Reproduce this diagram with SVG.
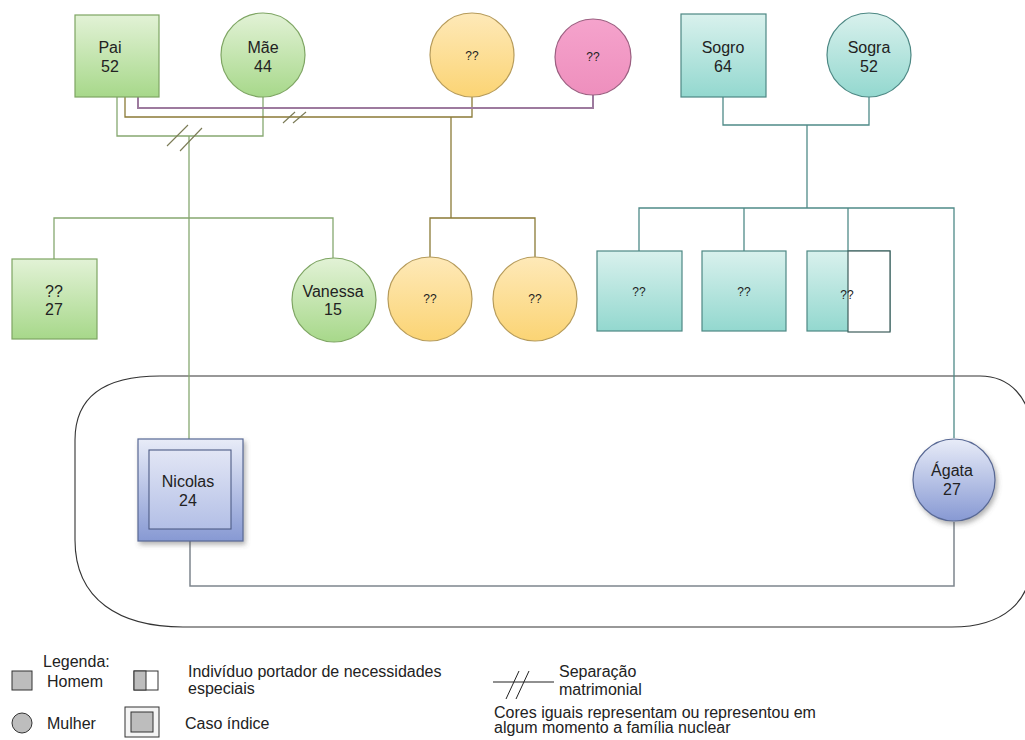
<svg xmlns="http://www.w3.org/2000/svg" width="1025" height="740" viewBox="0 0 1025 740">
  <defs>
    <linearGradient id="gGreen" x1="0" y1="0" x2="0" y2="1">
      <stop offset="0" stop-color="#e2f2d6"/>
      <stop offset="1" stop-color="#a7d88a"/>
    </linearGradient>
    <linearGradient id="gYellow" x1="0" y1="0" x2="0" y2="1">
      <stop offset="0" stop-color="#fee9b8"/>
      <stop offset="1" stop-color="#fbd474"/>
    </linearGradient>
    <linearGradient id="gPink" x1="0" y1="0" x2="0" y2="1">
      <stop offset="0" stop-color="#f5a3cc"/>
      <stop offset="1" stop-color="#ee8fbd"/>
    </linearGradient>
    <linearGradient id="gTeal" x1="0" y1="0" x2="0" y2="1">
      <stop offset="0" stop-color="#d9f1ed"/>
      <stop offset="1" stop-color="#93d8cf"/>
    </linearGradient>
    <linearGradient id="gBlue" x1="0" y1="0" x2="0" y2="1">
      <stop offset="0" stop-color="#e8ecf8"/>
      <stop offset="1" stop-color="#8799d3"/>
    </linearGradient>
    <linearGradient id="gBlueInner" x1="0" y1="0" x2="0" y2="1">
      <stop offset="0" stop-color="#e2e6f5"/>
      <stop offset="1" stop-color="#b3bfe6"/>
    </linearGradient>
    <filter id="shadow" x="-20%" y="-20%" width="150%" height="150%">
      <feDropShadow dx="2" dy="3" stdDeviation="2.5" flood-color="#555" flood-opacity="0.45"/>
    </filter>
  </defs>
  <style>
    text { font-family: "Liberation Sans", Arial, sans-serif; fill: #222; }
    .name { font-size: 16px; text-anchor: middle; }
    .small { font-size: 12px; text-anchor: middle; }
    .leg { font-size: 16px; }
    .green { fill: url(#gGreen); stroke: #7ea563; stroke-width: 1.2; }
    .yellow { fill: url(#gYellow); stroke: #b69b5a; stroke-width: 1.2; }
    .pink { fill: url(#gPink); stroke: #9b5f80; stroke-width: 1.2; }
    .teal { fill: url(#gTeal); stroke: #4d8884; stroke-width: 1.2; }
    .blue { fill: url(#gBlue); stroke: #596995; stroke-width: 1.2; }
    .c-green { fill: none; stroke: #86a870; stroke-width: 1.3; }
    .c-olive { fill: none; stroke: #8a7a36; stroke-width: 1.3; }
    .c-purple { fill: none; stroke: #9d7a9e; stroke-width: 2; }
    .c-teal { fill: none; stroke: #4f8a88; stroke-width: 1.3; }
    .c-gray { fill: none; stroke: #7d858d; stroke-width: 1.5; }
    .slash { fill: none; stroke: #7a7a55; stroke-width: 1.1; }
    .legshape { fill: #bdbdbd; stroke: #333; stroke-width: 1; }
  </style>

  <rect width="1025" height="740" fill="#ffffff"/>

  <!-- household boundary -->
  <path d="M 160 376 L 980 376 C 1010 376 1030 398 1031 430 L 1031 565 C 1030 600 1005 627 952 627 L 183 627 C 120 627 75 600 75 540 L 75 440 C 75 400 100 376 160 376 Z" fill="none" stroke="#333" stroke-width="1.1"/>

  <g id="connectors">
    <!-- Pai - Mãe union and children -->
    <path class="c-green" d="M 117 97 L 117 136 L 263 136 L 263 97"/>
    <path class="c-green" d="M 189 136 L 189 439"/>
    <path class="c-green" d="M 54 259 L 54 218 L 333 218 L 333 258"/>
    <line class="slash" x1="167" y1="146" x2="188" y2="125"/>
    <line class="slash" x1="180" y1="151" x2="202" y2="128"/>
    <!-- Pai - second partner union and children -->
    <path class="c-olive" d="M 125 97 L 125 117 L 472 117 L 472 97"/>
    <path class="c-olive" d="M 451 117 L 451 218"/>
    <path class="c-olive" d="M 430 258 L 430 218 L 535 218 L 535 258"/>
    <line class="slash" x1="283" y1="123" x2="295" y2="112"/>
    <line class="slash" x1="293" y1="123" x2="306" y2="112"/>
    <!-- Pai - third partner union -->
    <path class="c-purple" d="M 138 97 L 138 108 L 593 108 L 593 95"/>
    <!-- Sogro - Sogra union and children -->
    <path class="c-teal" d="M 723 97 L 723 125 L 869 125 L 869 97"/>
    <path class="c-teal" d="M 807 125 L 807 208"/>
    <path class="c-teal" d="M 639 251 L 639 208 L 954 208 L 954 438"/>
    <path class="c-teal" d="M 744 208 L 744 251"/>
    <path class="c-teal" d="M 848 208 L 848 251"/>
    <!-- Nicolas - Ágata union -->
    <path class="c-gray" d="M 190 541 L 190 586 L 954 586 L 954 522"/>
  </g>

  <g id="pai">
    <rect class="green" x="75" y="15" width="84" height="82"/>
    <text class="name" x="110" y="53">Pai</text>
    <text class="name" x="110" y="72">52</text>
  </g>
  <g id="mae">
    <circle class="green" cx="263" cy="55" r="42"/>
    <text class="name" x="263" y="53">Mãe</text>
    <text class="name" x="263" y="72">44</text>
  </g>
  <g id="parceira-1">
    <circle class="yellow" cx="472" cy="55" r="42"/>
    <text class="small" x="472" y="60">??</text>
  </g>
  <g id="parceira-2">
    <circle class="pink" cx="593" cy="57" r="38"/>
    <text class="small" x="593" y="61">??</text>
  </g>
  <g id="sogro">
    <rect class="teal" x="681" y="14" width="85" height="83"/>
    <text class="name" x="723" y="53">Sogro</text>
    <text class="name" x="723" y="72">64</text>
  </g>
  <g id="sogra">
    <circle class="teal" cx="869" cy="55" r="42"/>
    <text class="name" x="869" y="53">Sogra</text>
    <text class="name" x="869" y="72">52</text>
  </g>

  <g id="irmao">
    <rect class="green" x="12" y="259" width="85" height="80"/>
    <text class="name" x="54" y="297">??</text>
    <text class="name" x="54" y="315">27</text>
  </g>
  <g id="vanessa">
    <circle class="green" cx="334" cy="300" r="42"/>
    <text class="name" x="333" y="297">Vanessa</text>
    <text class="name" x="333" y="315">15</text>
  </g>
  <g id="meia-irma-1">
    <circle class="yellow" cx="430" cy="299" r="42"/>
    <text class="small" x="430" y="303">??</text>
  </g>
  <g id="meia-irma-2">
    <circle class="yellow" cx="535" cy="299" r="42"/>
    <text class="small" x="535" y="303">??</text>
  </g>
  <g id="cunhado-1">
    <rect class="teal" x="597" y="251" width="85" height="80"/>
    <text class="small" x="639" y="296">??</text>
  </g>
  <g id="cunhado-2">
    <rect class="teal" x="702" y="251" width="84" height="80"/>
    <text class="small" x="744" y="296">??</text>
  </g>
  <g id="cunhado-3">
    <rect class="teal" x="807" y="251" width="83" height="80"/>
    <rect x="848" y="251" width="42" height="81" fill="#ffffff" stroke="#3d5c5a" stroke-width="1.2"/>
    <text class="small" x="847" y="299">??</text>
  </g>

  <g id="nicolas">
    <rect class="blue" x="138" y="439" width="105" height="102" filter="url(#shadow)"/>
    <rect x="149" y="450" width="82" height="79" fill="url(#gBlueInner)" stroke="#4d5b85" stroke-width="1.1"/>
    <text class="name" x="188" y="487">Nicolas</text>
    <text class="name" x="188" y="506">24</text>
  </g>
  <g id="agata">
    <circle class="blue" cx="954" cy="480" r="41" filter="url(#shadow)"/>
    <text class="name" x="952" y="476">Ágata</text>
    <text class="name" x="952" y="495">27</text>
  </g>

  <g id="legenda">
    <text class="leg" x="43" y="667">Legenda:</text>
    <rect class="legshape" x="12" y="671" width="20" height="19"/>
    <text class="leg" x="47" y="687">Homem</text>
    <circle class="legshape" cx="22" cy="723" r="10"/>
    <text class="leg" x="47" y="729">Mulher</text>

    <rect x="134" y="671" width="24" height="19" fill="#ffffff" stroke="#333" stroke-width="1"/>
    <rect x="134" y="671" width="12" height="19" fill="#bdbdbd" stroke="#333" stroke-width="1"/>
    <text class="leg" x="188" y="677">Indivíduo portador de necessidades</text>
    <text class="leg" x="188" y="694">especiais</text>

    <rect x="125" y="707" width="34" height="30" fill="#f4f4f4" stroke="#333" stroke-width="1"/>
    <rect class="legshape" x="131" y="712" width="22" height="20"/>
    <text class="leg" x="185" y="729">Caso índice</text>

    <line x1="493" y1="682" x2="554" y2="682" stroke="#222" stroke-width="1.1"/>
    <line x1="506" y1="699" x2="519" y2="671" stroke="#222" stroke-width="1"/>
    <line x1="516" y1="699" x2="529" y2="671" stroke="#222" stroke-width="1"/>
    <text class="leg" x="559" y="677">Separação</text>
    <text class="leg" x="559" y="695">matrimonial</text>
    <text class="leg" x="494" y="718">Cores iguais representam ou representou  em</text>
    <text class="leg" x="494" y="733">algum momento a família nuclear</text>
  </g>
</svg>
